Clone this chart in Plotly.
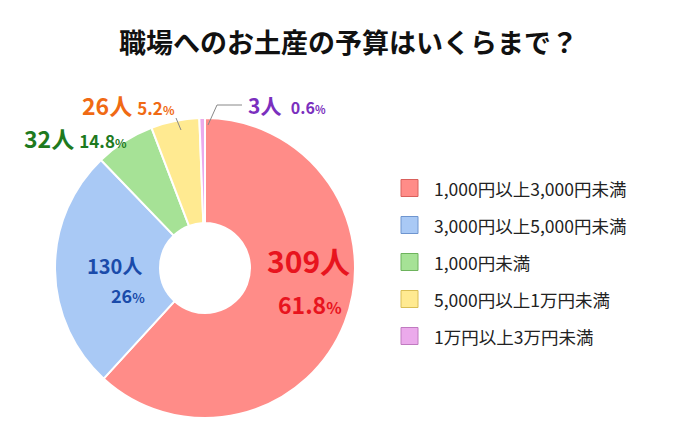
import plotly.graph_objects as go

labels = ["1,000円以上3,000円未満", "3,000円以上5,000円未満", "1,000円未満", "5,000円以上1万円未満", "1万円以上3万円未満"]
counts = [309, 130, 32, 26, 3]
pcts = ["61.8", "26", "14.8", "5.2", "0.6"]
colors = ["#FF8C88", "#A9C9F5", "#A6E296", "#FFEA91", "#EBAAEB"]
edge = ["#D9605C", "#6E95CF", "#6DB35C", "#D9BE55", "#C07AC0"]
textcol = ["#E8141E", "#1A4BAA", "#1E7A1E", "#F06A14", "#7B2FBE"]

W, H = 680, 430
def px(x): return x / W
def py(y): return 1 - y / H

fig = go.Figure(go.Pie(
    labels=labels, values=counts, sort=False, direction="clockwise", rotation=0,
    hole=0.3, textinfo="none", showlegend=False,
    marker=dict(colors=colors, line=dict(color="white", width=2)),
    domain=dict(x=[px(47), px(347)], y=[py(410), py(110)]),
))

F = "Noto Sans CJK JP"
ann = []
def t(x, y, s, size, col, anchor="center"):
    ann.append(dict(x=px(x), y=py(y), xref="paper", yref="paper", text=s, showarrow=False,
                    font=dict(family=F, size=size, color=col), xanchor=anchor, yanchor="middle"))

t(340, 33, "<b>職場へのお土産の予算はいくらまで？</b>", 27, "#111")
t(300, 252, f"<b>{counts[0]}人</b>", 30, textcol[0])
t(302, 296, f"<b>{pcts[0]}<span style='font-size:16px'>%</span></b>", 23, textcol[0])
t(106, 257, f"<b>{counts[1]}人</b>", 20, textcol[1])
t(120, 287, f"<b>{pcts[1]}<span style='font-size:13px'>%</span></b>", 18, textcol[1])
t(14, 130, f"<b>{counts[2]}人</b> <b><span style='font-size:17px'>{pcts[2]}</span><span style='font-size:12px'>%</span></b>", 23, textcol[2], "left")
t(72, 97, f"<b>{counts[3]}人</b> <b><span style='font-size:17px'>{pcts[3]}</span><span style='font-size:12px'>%</span></b>", 23, textcol[3], "left")
t(238, 97, f"<b>{counts[4]}人</b>  <b><span style='font-size:16px'>{pcts[4]}</span><span style='font-size:11px'>%</span></b>", 21, textcol[4], "left")

shapes = [
    dict(type="path", xref="paper", yref="paper",
         path=f"M {px(200)},{py(117)} L {px(209)},{py(97)} L {px(234)},{py(97)}",
         line=dict(color="#888", width=1)),
    dict(type="line", xref="paper", yref="paper", x0=px(168), y0=py(110), x1=px(173), y1=py(122),
         line=dict(color="#888", width=1)),
]
for i, lab in enumerate(labels):
    yc = 180 + i * 37
    shapes.append(dict(type="rect", xref="paper", yref="paper", x0=px(393), x1=px(410),
                       y0=py(yc + 8.5), y1=py(yc - 8.5), fillcolor=colors[i], line=dict(color=edge[i], width=1)))
    t(424, yc, lab, 17.5, "#222", "left")

fig.update_layout(width=W, height=H, margin=dict(l=0, r=0, t=0, b=0),
                  paper_bgcolor="white", plot_bgcolor="white",
                  annotations=ann, shapes=shapes, font=dict(family=F))
fig.write_html("out.html")
